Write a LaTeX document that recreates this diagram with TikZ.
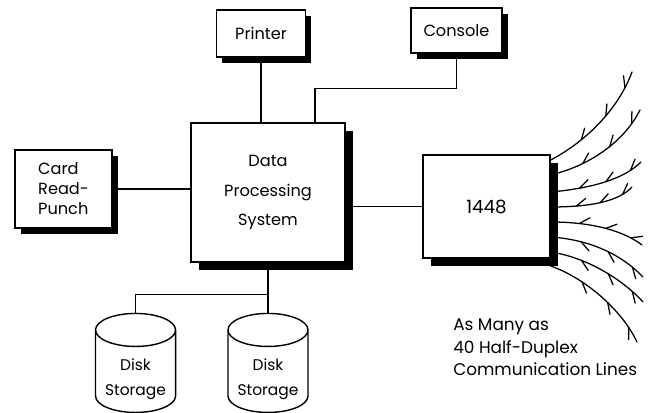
\documentclass[tikz,border=0pt]{standalone}
\usepackage{fontspec}
\setmainfont{Poppins}
\usepackage{tikz}
\usetikzlibrary{shapes.geometric, positioning, shadows, decorations.markings}
\tikzset{
  % Box styles
  unitbox/.style={rectangle, draw=black, fill=white, line width=1pt, inner sep=2pt, align=center, font=\fontsize{11.5}{14.2}\selectfont},
  smallshadow/.style={drop shadow={shadow xshift=0.14cm, shadow yshift=-0.14cm, fill=black, opacity=1}},
  bigshadow/.style={drop shadow={shadow xshift=0.21cm, shadow yshift=-0.21cm, fill=black, opacity=1}},
  diskunit/.style={cylinder, draw=black, fill=white, line width=1pt, shape border rotate=90, aspect=0.47, minimum width=2cm, minimum height=2.475cm, align=center, text height=29pt, text depth=0pt, font=\fontsize{11}{17.8}\selectfont},
  notetext/.style={align=left, inner sep=0pt, font=\fontsize{12}{16}\selectfont},
  % Line styles
  link/.style={line width=1pt},
  wire/.style={line width=0.9pt, line cap=round},
  barbs/.style={postaction={decorate, decoration={markings, mark=between positions 0.3 and 0.9 step 0.28 with {\draw[wire] (0,0) -- (#1:0.3cm);}}}}
}
\begin{document}
\begin{tikzpicture}[x=0.025cm, y=-0.025cm]
  \useasboundingbox (0,0) rectangle (652,413);

  % Processor and its units
  \node[unitbox, bigshadow, minimum width=3.85cm, minimum height=3.475cm, font=\fontsize{11.5}{21}\selectfont] (dps) at (268,192.5) {Data\\Processing\\System};
  \node[unitbox, smallshadow, minimum width=2.225cm, minimum height=1.175cm] (printer) at (261,33.5) {Printer};
  \node[unitbox, smallshadow, minimum width=2.275cm, minimum height=1.125cm] (console) at (456.5,30.5) {Console};
  \node[unitbox, smallshadow, minimum width=2.425cm, minimum height=1.95cm, align=left] (card) at (63.5,189) {Card\\Read-\\Punch};
  \node[unitbox, bigshadow, minimum width=3.175cm, minimum height=2.575cm, font=\fontsize{13}{16}\selectfont] (mux) at (486.5,206.5) {1448};

  % Disk files
  \node[diskunit, below=1.25cm of dps] (disk2) {Disk\\Storage};
  \node[diskunit, left=1.275cm of disk2] (disk1) {Disk\\Storage};

  % Note
  \node[notetext, anchor=west] (lines) at (453,347.5) {As Many as\\40 Half-Duplex\\Communication Lines};

  % Connections
  \draw[link] (printer.south) -- (printer.south |- dps.north);
  \draw[link] (console.south) -- ++(0,35) -| ([xshift=1.175cm]dps.north);
  \draw[link] (card.east) -- (card.east -| dps.west);
  \draw[link] (mux.west) -- (mux.west -| dps.east);
  \draw[link] (dps.south) -- (disk2.north);
  \draw[link] (disk1.north) |- ([yshift=-0.8cm]dps.south);

  % Communication lines
  \foreach \sy/\ax/\ay/\bx/\by/\ex/\ey/\side in {
      160/585/142/618/110/632/72/35, 175/592/165/625/140/640/110/35,
      192/595/188/625/178/641/162/35, 207/595/207/620/200/632/187/35,
      222/595/222/625/232/642/245/35, 237/595/240/625/258/643/277/-35,
      252/590/258/625/282/643/302/-35, 266/585/278/622/310/637/342/-35}
    \draw[wire, barbs=\side] (mux.east |- 0,\sy) .. controls (\ax,\ay) and (\bx,\by) .. (\ex,\ey);
\end{tikzpicture}
\end{document}
